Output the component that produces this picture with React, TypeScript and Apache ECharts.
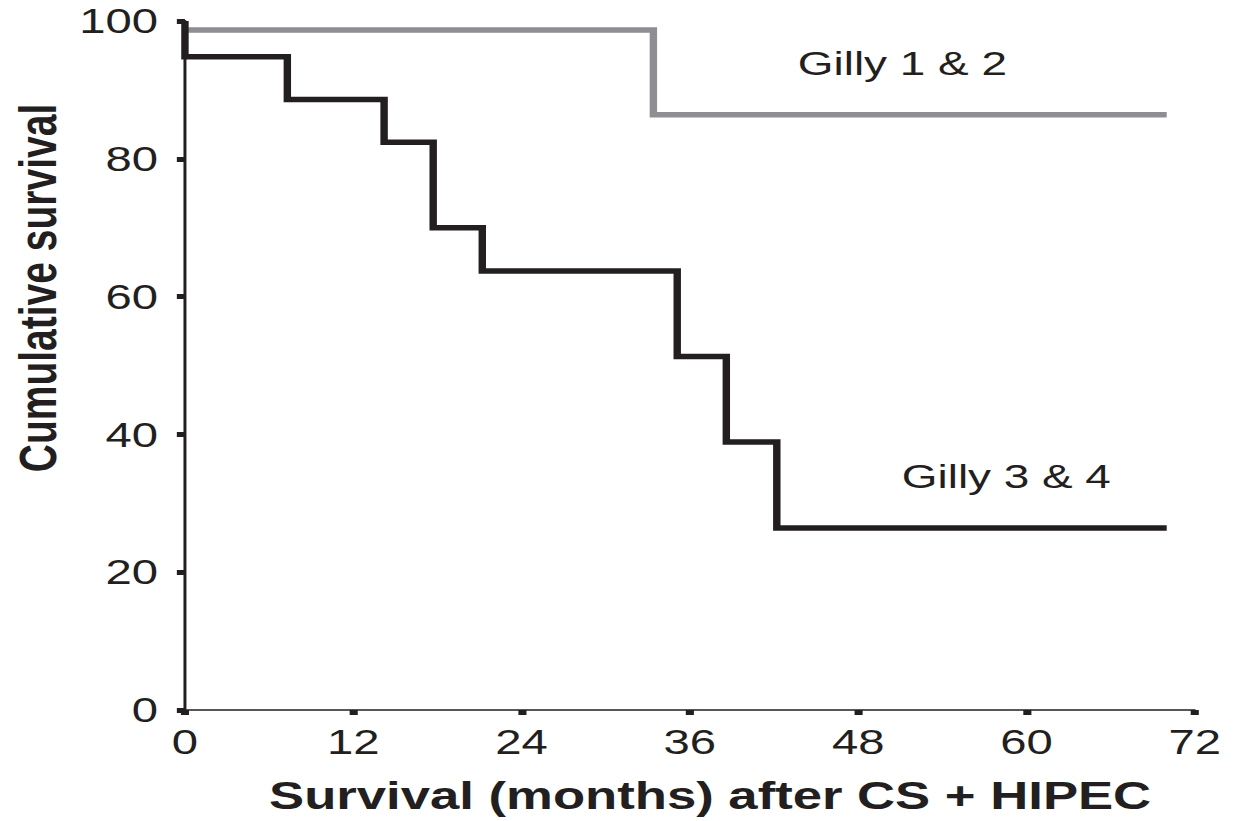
import React, { useEffect, useRef } from "react";
import * as echarts from "echarts";

// ---- data ----
const xTicks = [0, 12, 24, 36, 48, 60, 72];
const yTicks = [0, 20, 40, 60, 80, 100];
const gilly12Months = [0, 33.4, 70];
const gilly12Survival = [98.7, 86.4, 86.4];
const gilly34Months = [0, 0, 7.3, 14.2, 17.7, 21.2, 35.1, 38.6, 42.2, 70];
const gilly34Survival = [100, 94.8, 88.6, 82.4, 70.0, 63.7, 51.3, 38.9, 26.4, 26.4];
const seriesNames = ["Gilly 1 & 2", "Gilly 3 & 4"];
const xTitle = "Survival (months) after CS + HIPEC";
const yTitle = "Cumulative survival";

const SX = 1.35; // horizontal stretch of the original figure
const OUT_W = 1238;
const OUT_H = 821;
const IN_W = Math.round(OUT_W / SX);

const INK = "#231f20";
const GREY = "#8e8f93";
const FONT = "'Liberation Sans', Arial, Helvetica, sans-serif";

export default function App() {
  const ref = useRef<HTMLDivElement>(null);

  useEffect(() => {
    if (!ref.current) return;
    const chart = echarts.init(ref.current, undefined, { renderer: "svg" });
    const pairs = (xs: number[], ys: number[]) => xs.map((x, i) => [x, ys[i]]);
    chart.setOption({
      animation: false,
      backgroundColor: "#ffffff",
      grid: { left: 137, right: IN_W - 885, top: 21, bottom: 111, containLabel: false },
      xAxis: {
        type: "value",
        min: xTicks[0],
        max: xTicks[xTicks.length - 1],
        interval: xTicks[1] - xTicks[0],
        name: xTitle,
        nameLocation: "middle",
        nameGap: 66,
        nameTextStyle: {
          fontFamily: FONT,
          fontWeight: "bold",
          fontSize: 39,
          color: INK,
          padding: [0, 0, 0, 30],
        },
        axisLine: { show: true, lineStyle: { color: INK, width: 1.6 } },
        axisTick: { show: true, length: 5, lineStyle: { color: INK, width: 6 } },
        axisLabel: {
          margin: 14,
          fontFamily: FONT,
          fontSize: 35,
          color: INK,
          formatter: (v: number) => (xTicks.includes(v) ? String(v) : ""),
        },
        splitLine: { show: false },
      },
      yAxis: {
        type: "value",
        min: yTicks[0],
        max: yTicks[yTicks.length - 1],
        interval: yTicks[1] - yTicks[0],
        axisLine: { show: true, lineStyle: { color: INK, width: 2.2 } },
        axisTick: { show: true, length: 6, lineStyle: { color: INK, width: 5 } },
        axisLabel: {
          margin: 20,
          fontFamily: FONT,
          fontSize: 35,
          color: INK,
          formatter: (v: number) => (yTicks.includes(v) ? String(v) : ""),
        },
        splitLine: { show: false },
      },
      series: [
        {
          name: seriesNames[0],
          type: "line",
          step: "end",
          showSymbol: false,
          symbol: "none",
          data: pairs(gilly12Months, gilly12Survival),
          lineStyle: { color: GREY, width: 5.5, cap: "butt", join: "miter" },
          z: 2,
        },
        {
          name: seriesNames[1],
          type: "line",
          step: "end",
          showSymbol: false,
          symbol: "none",
          data: pairs(gilly34Months, gilly34Survival),
          lineStyle: { color: INK, width: 5.5, cap: "butt", join: "miter" },
          z: 3,
        },
      ],
      graphic: [
        {
          type: "text",
          x: 28,
          y: 288,
          rotation: Math.PI / 2,
          style: {
            text: yTitle,
            fill: INK,
            font: `bold 39px ${FONT}`,
            align: "center",
            verticalAlign: "middle",
          },
        },
        {
          type: "text",
          x: 591,
          y: 63,
          style: {
            text: seriesNames[0],
            fill: INK,
            font: `34px ${FONT}`,
            align: "left",
            verticalAlign: "middle",
          },
        },
        {
          type: "text",
          x: 668,
          y: 476,
          style: {
            text: seriesNames[1],
            fill: INK,
            font: `34px ${FONT}`,
            align: "left",
            verticalAlign: "middle",
          },
        },
      ],
    });
    return () => chart.dispose();
  }, []);

  return (
    <div
      style={{
        position: "absolute",
        left: 0,
        top: 0,
        width: OUT_W,
        height: OUT_H,
        overflow: "hidden",
        background: "#fff",
      }}
    >
      <div
        ref={ref}
        style={{
          width: IN_W,
          height: OUT_H,
          transform: `scaleX(${SX})`,
          transformOrigin: "0 0",
        }}
      />
    </div>
  );
}
